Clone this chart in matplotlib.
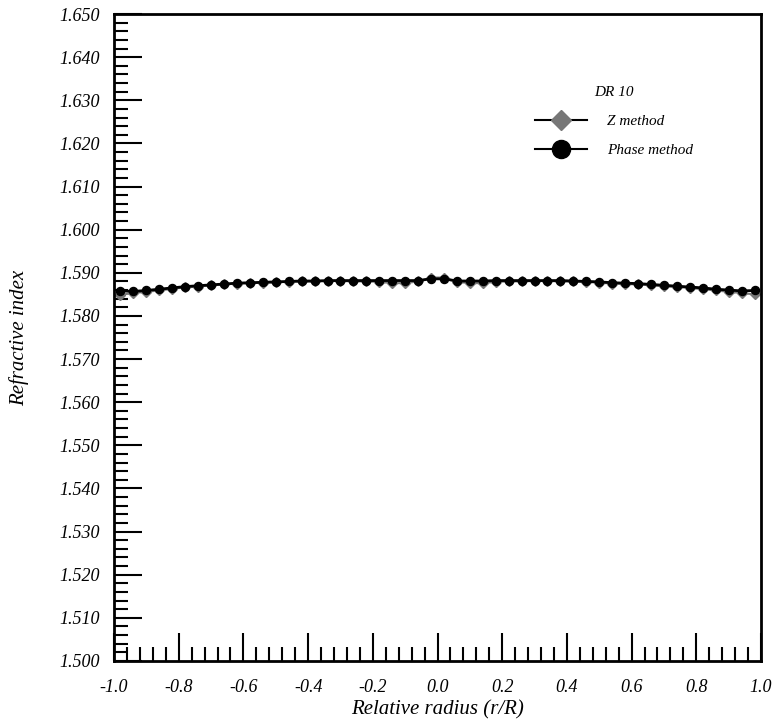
import numpy as np
import matplotlib.pyplot as plt
from matplotlib.lines import Line2D
from matplotlib.ticker import MultipleLocator, FormatStrFormatter

# Data
radius = [-0.98, -0.94, -0.90, -0.86, -0.82, -0.78, -0.74, -0.70, -0.66, -0.62,
          -0.58, -0.54, -0.50, -0.46, -0.42, -0.38, -0.34, -0.30, -0.26, -0.22,
          -0.18, -0.14, -0.10, -0.06, -0.02, 0.02, 0.06, 0.10, 0.14, 0.18,
          0.22, 0.26, 0.30, 0.34, 0.38, 0.42, 0.46, 0.50, 0.54, 0.58,
          0.62, 0.66, 0.70, 0.74, 0.78, 0.82, 0.86, 0.90, 0.94, 0.98]

phase_method = [1.5858, 1.5857, 1.5859, 1.5862, 1.5865, 1.5868, 1.5870, 1.5872, 1.5874, 1.5876,
                1.5877, 1.5878, 1.5879, 1.5880, 1.5881, 1.5881, 1.5882, 1.5882, 1.5882, 1.5882,
                1.5882, 1.5882, 1.5882, 1.5882, 1.5886, 1.5886, 1.5881, 1.5881, 1.5881, 1.5882,
                1.5882, 1.5882, 1.5882, 1.5882, 1.5882, 1.5881, 1.5880, 1.5879, 1.5877, 1.5876,
                1.5875, 1.5873, 1.5871, 1.5869, 1.5867, 1.5865, 1.5862, 1.5860, 1.5858, 1.5859]

z_method = [1.5849, 1.5853, 1.5856, 1.5859, 1.5863, 1.5866, 1.5868, 1.5871, 1.5873, 1.5875,
            1.5876, 1.5877, 1.5878, 1.5879, 1.5880, 1.5880, 1.5881, 1.5881, 1.5880, 1.5880,
            1.5879, 1.5876, 1.5876, 1.5880, 1.5889, 1.5889, 1.5879, 1.5876, 1.5876, 1.5879,
            1.5880, 1.5880, 1.5881, 1.5881, 1.5880, 1.5880, 1.5879, 1.5877, 1.5875, 1.5874,
            1.5873, 1.5871, 1.5869, 1.5867, 1.5865, 1.5862, 1.5859, 1.5856, 1.5853, 1.5850]

plt.rcParams['font.family'] = ['Liberation Serif', 'DejaVu Serif']
plt.rcParams['font.style'] = 'italic'

fig = plt.figure(figsize=(7.74, 7.22), dpi=100)
ax = fig.add_axes([0.1473, 0.0845, 0.8359, 0.8961])

ax.plot(radius, z_method, color='#777777', lw=1.5, marker='D', ms=5,
        mfc='#777777', mec='#777777', zorder=2)
ax.plot(radius, phase_method, color='black', lw=2, marker='o', ms=5.8,
        mfc='black', mec='black', zorder=3)

ax.set_xlim(-1.0, 1.0)
ax.set_ylim(1.500, 1.650)
ax.xaxis.set_major_locator(MultipleLocator(0.2))
ax.xaxis.set_minor_locator(MultipleLocator(0.04))
ax.yaxis.set_major_locator(MultipleLocator(0.01))
ax.yaxis.set_minor_locator(MultipleLocator(0.002))
ax.xaxis.set_major_formatter(FormatStrFormatter('%.1f'))
ax.yaxis.set_major_formatter(FormatStrFormatter('%.3f'))

ax.tick_params(which='major', direction='in', length=20, width=1.5,
               labelsize=13, pad=10, top=False, right=False)
ax.tick_params(axis='x', which='major', pad=13)
ax.tick_params(which='minor', direction='in', length=10, width=1.5,
               top=False, right=False)
for s in ax.spines.values():
    s.set_linewidth(2)

ax.set_xlabel('Relative radius (r/R)', fontsize=15, labelpad=3)
ax.set_ylabel('Refractive index', fontsize=15, labelpad=22)

handles = [
    Line2D([], [], color='black', lw=1.5, marker='D', ms=10,
           mfc='#777777', mec='#777777'),
    Line2D([], [], color='black', lw=1.5, marker='o', ms=13,
           mfc='black', mec='black'),
]
leg = ax.legend(handles, ['Z method', 'Phase method'], title='DR 10',
                loc='upper left', bbox_to_anchor=(0.63, 0.91), frameon=False,
                fontsize=11, title_fontsize=11, handlelength=3.4,
                labelspacing=1.0, handletextpad=1.3)
leg.get_title().set_style('italic')

plt.savefig('out.png', dpi=100)
